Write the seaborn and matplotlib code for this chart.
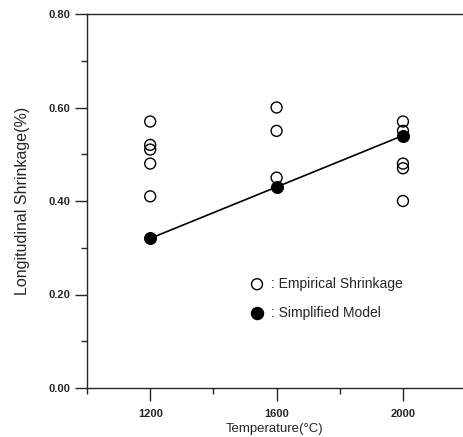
import matplotlib
matplotlib.use("Agg")
import matplotlib.pyplot as plt
import seaborn as sns
import pandas as pd
from matplotlib.ticker import MultipleLocator

sns.set_style("ticks")
plt.rcParams['font.family'] = ['Liberation Sans', 'DejaVu Sans']

# Empirical shrinkage data
emp_temp = [1200, 1200, 1200, 1200, 1200, 1600, 1600, 1600, 2000, 2000, 2000, 2000, 2000]
emp_shrink = [0.57, 0.52, 0.51, 0.48, 0.41, 0.60, 0.55, 0.45, 0.57, 0.55, 0.48, 0.47, 0.40]

# Simplified model
model_temp = [1200, 1600, 2000]
model_shrink = [0.32, 0.43, 0.54]

xticks = [1200, 1600, 2000]
yticks = [0.00, 0.20, 0.40, 0.60, 0.80]

emp_df = pd.DataFrame({"Temperature": emp_temp, "Shrinkage": emp_shrink})
mod_df = pd.DataFrame({"Temperature": model_temp, "Shrinkage": model_shrink})

fig = plt.figure(figsize=(4.63, 4.37), dpi=100)
ax = fig.add_axes([87/463, 49/437, 1 - 87/463, 374/437])

sns.lineplot(data=mod_df, x="Temperature", y="Shrinkage", ax=ax, color="black", linewidth=1.2)
sns.scatterplot(data=emp_df, x="Temperature", y="Shrinkage", ax=ax, marker="o",
                s=62, facecolor="none", edgecolor="black", linewidth=1.0, zorder=3)
sns.scatterplot(data=mod_df, x="Temperature", y="Shrinkage", ax=ax, marker="o",
                s=75, color="black", edgecolor="black", zorder=4)

ax.set_xlim(1000, 2190)
ax.set_ylim(0, 0.8)
ax.set_xticks(xticks)
ax.set_yticks(yticks)
ax.xaxis.set_minor_locator(MultipleLocator(200))
ax.yaxis.set_minor_locator(MultipleLocator(0.1))
ax.set_xticklabels([str(t) for t in xticks], fontsize=8, fontweight="bold")
ax.set_yticklabels([f"{t:.2f}" for t in yticks], fontsize=8, fontweight="bold")
ax.tick_params(axis="y", which="major", direction="out", length=9, width=1, pad=3)
ax.tick_params(axis="x", which="major", direction="out", length=9, width=1, pad=6)
ax.tick_params(axis="both", which="minor", direction="out", length=4.5, width=1)
ax.spines["right"].set_visible(False)
for s in ["left", "top", "bottom"]:
    ax.spines[s].set_linewidth(1.0)

ax.set_xlabel("Temperature(°C)", fontsize=9.5, labelpad=3)
ax.set_ylabel("Longitudinal Shrinkage(%)", fontsize=11.5, labelpad=13)

# Legend as text annotations
ax.scatter([1538], [0.222], s=62, facecolor="none", edgecolor="black", linewidth=1.0, clip_on=False)
ax.text(1582, 0.222, ": Empirical Shrinkage", fontsize=10, va="center", ha="left")
ax.scatter([1538], [0.160], s=75, color="black", clip_on=False)
ax.text(1582, 0.160, ": Simplified Model", fontsize=10, va="center", ha="left")

fig.savefig("out.png", dpi=100)
